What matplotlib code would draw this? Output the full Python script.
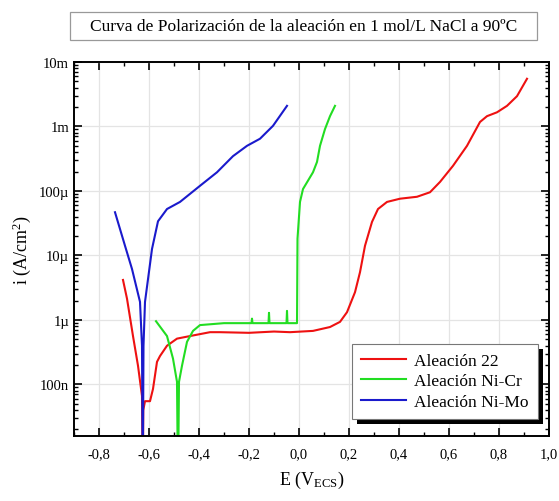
import matplotlib
matplotlib.use("Agg")
import matplotlib.pyplot as plt
import numpy as np
from matplotlib.ticker import FixedLocator, LogLocator, NullFormatter, MultipleLocator
from matplotlib.patches import Rectangle

plt.rcParams['font.family'] = ['Liberation Serif', 'DejaVu Serif']
plt.rcParams['mathtext.fontset'] = 'stix'

# Aleación 22 (red): E (V_ECS), log10 i (A/cm2)
e_a22 = [-0.704, -0.688, -0.664, -0.644, -0.628, -0.625, -0.623, -0.616, -0.596, -0.584,
         -0.568, -0.556, -0.528, -0.488, -0.436, -0.356, -0.316, -0.20, -0.10, -0.036,
         0.056, 0.124, 0.164, 0.192, 0.224, 0.244, 0.264, 0.292, 0.316, 0.352, 0.404,
         0.472, 0.524, 0.564, 0.616, 0.672, 0.724, 0.752, 0.792, 0.832, 0.872, 0.912]
logi_a22 = [-5.38, -5.67, -6.25, -6.71, -7.18, -8.6, -7.4, -7.26, -7.26, -7.07,
            -6.65, -6.56, -6.40, -6.29, -6.25, -6.19, -6.19, -6.20, -6.18, -6.19,
            -6.17, -6.11, -6.03, -5.88, -5.57, -5.26, -4.85, -4.48, -4.28, -4.17, -4.12,
            -4.09, -4.02, -3.86, -3.61, -3.30, -2.93, -2.84, -2.78, -2.68, -2.53, -2.26]

# Aleación Ni-Cr (green)
e_nicr = [-0.572, -0.528, -0.504, -0.488, -0.484, -0.480, -0.468, -0.448, -0.424, -0.396,
          -0.30, -0.190, -0.188, -0.186, -0.122, -0.120, -0.118, -0.050, -0.048, -0.046,
          -0.008, -0.007, -0.006, 0.004, 0.016, 0.036, 0.056, 0.072, 0.084, 0.104, 0.124, 0.144]
logi_nicr = [-6.02, -6.25, -6.60, -6.96, -8.6, -6.96, -6.71, -6.34, -6.17, -6.08,
             -6.05, -6.05, -5.98, -6.05, -6.05, -5.89, -6.05, -6.05, -5.86, -6.05,
             -6.05, -5.40, -4.74, -4.17, -3.97, -3.84, -3.71, -3.55, -3.30, -3.04, -2.84, -2.68]

# Aleación Ni-Mo (blue)
e_nimo = [-0.736, -0.696, -0.668, -0.636, -0.628, -0.625, -0.622, -0.616, -0.588, -0.564,
          -0.528, -0.476, -0.396, -0.328, -0.264, -0.208, -0.156, -0.104, -0.048]
logi_nimo = [-4.33, -4.85, -5.21, -5.72, -6.4, -8.6, -6.4, -5.72, -4.90, -4.47,
             -4.28, -4.17, -3.92, -3.71, -3.46, -3.30, -3.19, -2.99, -2.68]

series = [
    ("Aleación 22", e_a22, logi_a22, "#ee1111"),
    ("Aleación Ni-Cr", e_nicr, logi_nicr, "#22dd22"),
    ("Aleación Ni-Mo", e_nimo, logi_nimo, "#1a1acc"),
]

ytick_vals = [1e-7, 1e-6, 1e-5, 1e-4, 1e-3, 1e-2]
ytick_labels = ["100n", "1µ", "10µ", "100µ", "1m", "10m"]
xtick_vals = [-0.8, -0.6, -0.4, -0.2, 0.0, 0.2, 0.4, 0.6, 0.8, 1.0]
xtick_labels = ["-0,8", "-0,6", "-0,4", "-0,2", "0,0", "0,2", "0,4", "0,6", "0,8", "1,0"]

W, H = 559, 502
fig = plt.figure(figsize=(W / 100, H / 100), dpi=100)
ax = fig.add_axes([74 / W, 1 - 437 / H, (549 - 74) / W, (437 - 63) / H])

for name, e, li, c in series:
    ax.plot(e, 10 ** np.array(li), color=c, lw=1.5, label=name)

ax.set_yscale('log')
ax.set_xlim(-0.9, 1.0)
ax.set_ylim(10 ** -7.8, 1e-2)
ax.xaxis.set_major_locator(FixedLocator(xtick_vals))
ax.set_xticklabels(xtick_labels)
ax.xaxis.set_minor_locator(MultipleLocator(0.1))
ax.yaxis.set_major_locator(FixedLocator(ytick_vals))
ax.set_yticklabels(ytick_labels)
ax.yaxis.set_minor_locator(LogLocator(base=10, subs=np.arange(2, 10), numticks=20))
ax.yaxis.set_minor_formatter(NullFormatter())

ax.tick_params(which='both', direction='in', top=True, right=True, labelsize=10.5)
ax.tick_params(which='major', length=6, width=1.2)
ax.tick_params(which='minor', length=3, width=1)
ax.tick_params(axis='x', pad=8)
for s in ax.spines.values():
    s.set_linewidth(1.4)
ax.grid(True, which='major', color='#e4e4e4', lw=0.9)
ax.set_axisbelow(True)

ax.set_xlabel(r"E (V$_\mathregular{ECS}$)", fontsize=13, labelpad=6)
ax.set_ylabel(r"i (A/cm$^\mathregular{2}$)", fontsize=13, labelpad=4)

# Title box
fig.text((70 + 537) / 2 / W, 1 - 27 / H, "Curva de Polarización de la aleación en 1 mol/L NaCl a 90ºC",
         ha='center', va='center', fontsize=12.5)
fig.patches.append(Rectangle((70 / W, 1 - 41 / H), (537 - 70) / W, 28 / H,
                             transform=fig.transFigure, fill=False, ec='#999999', lw=0.9))

leg = ax.legend(loc='upper left', bbox_to_anchor=(352 / W, 1 - 345 / H),
                bbox_transform=fig.transFigure, borderaxespad=0, fontsize=12.5,
                frameon=True, fancybox=False, edgecolor='#777777', framealpha=1,
                handlelength=2.6, labelspacing=0.25, handletextpad=0.5, borderpad=0.5)
leg.get_frame().set_linewidth(0.8)
leg.set_zorder(10)

fig.canvas.draw()
bb = leg.get_window_extent()
off = 5
shadow = Rectangle(((bb.x0 + off) / W, (bb.y0 - off) / H), bb.width / W, bb.height / H,
                   transform=fig.transFigure, fc='black', ec='none', zorder=9, clip_on=False)
ax.add_artist(shadow)

fig.savefig("out.png", dpi=100)
